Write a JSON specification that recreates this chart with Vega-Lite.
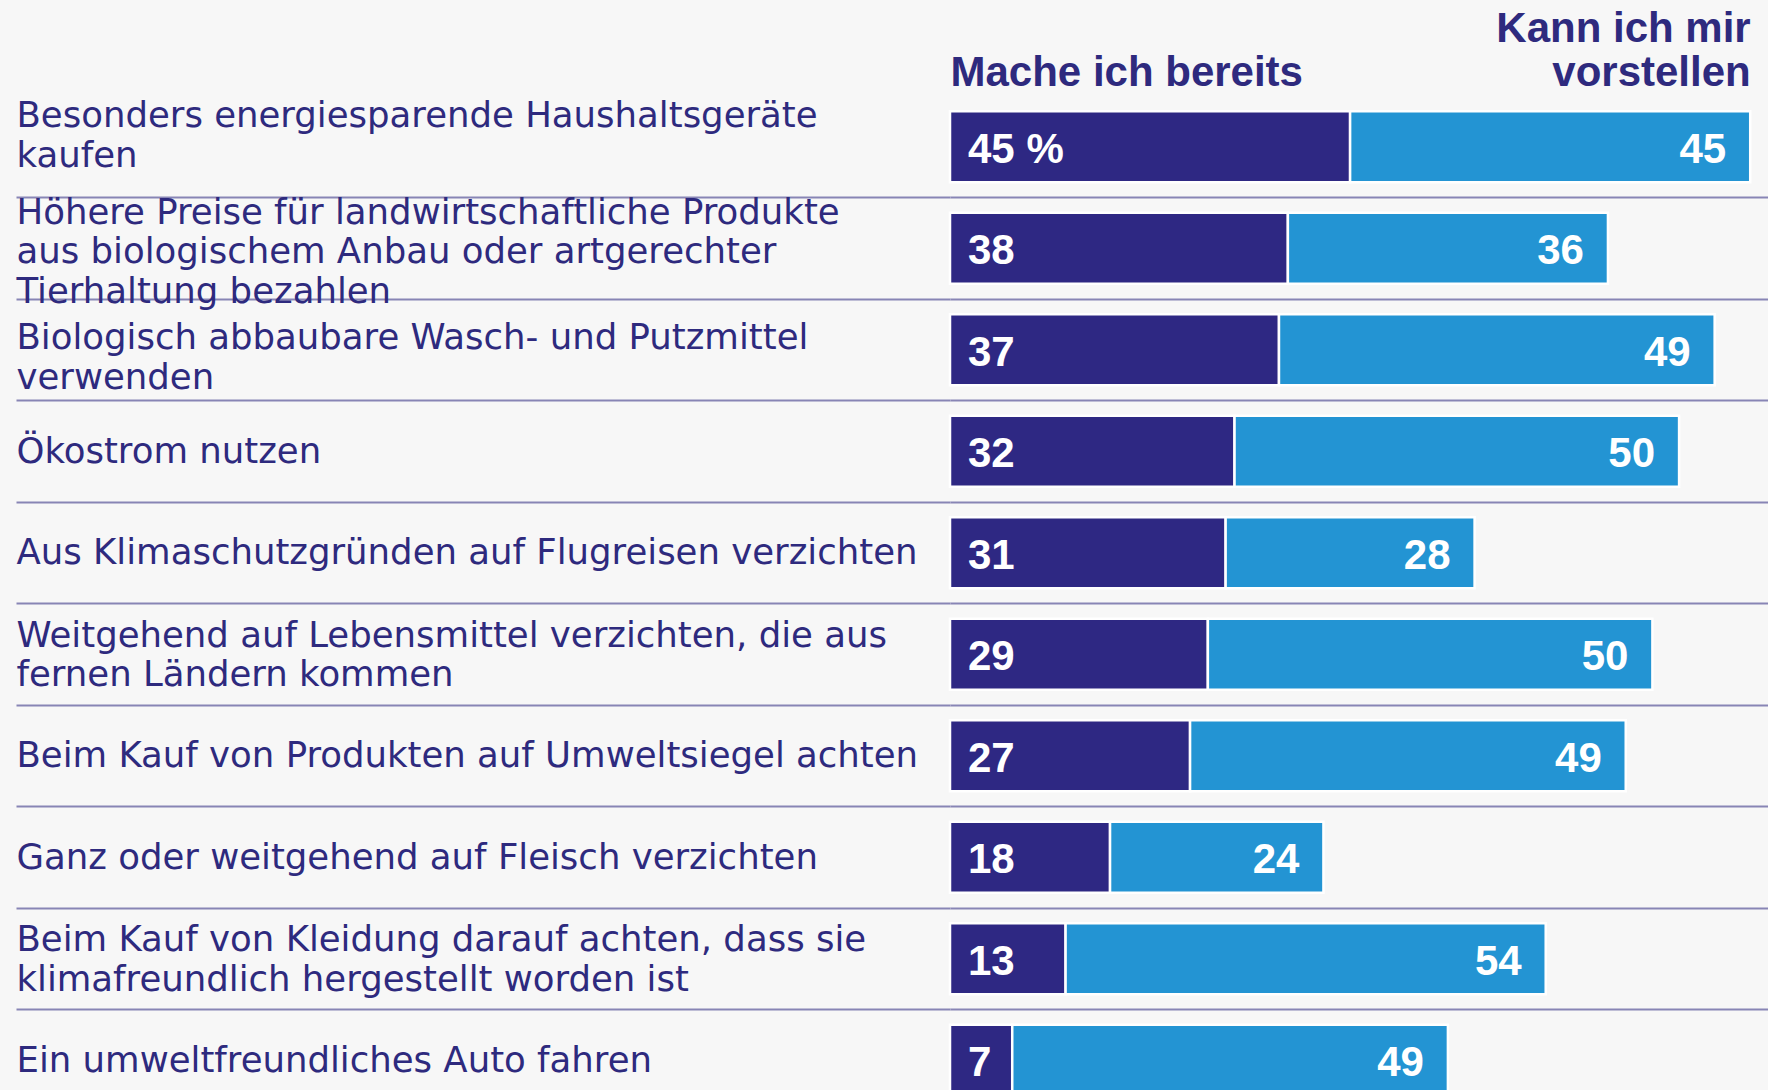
{
  "$schema": "https://vega.github.io/schema/vega-lite/v6.json",
  "width": 818,
  "height": 994,
  "autosize": {"type": "none"},
  "padding": {"left": 950, "top": 96, "right": 0, "bottom": 0},
  "background": "#f7f7f7",
  "config": {"view": {"stroke": null}},
  "data": {
    "values": [
      {"item": "Besonders energiesparende Haushaltsgeräte|kaufen", "cat": "Mache ich bereits", "o": 1, "value": 45, "lbl": "45 %"},
      {"item": "Besonders energiesparende Haushaltsgeräte|kaufen", "cat": "Kann ich mir vorstellen", "o": 2, "value": 45, "lbl": "45"},
      {"item": "Höhere Preise für landwirtschaftliche Produkte|aus biologischem Anbau oder artgerechter|Tierhaltung bezahlen", "cat": "Mache ich bereits", "o": 1, "value": 38, "lbl": "38"},
      {"item": "Höhere Preise für landwirtschaftliche Produkte|aus biologischem Anbau oder artgerechter|Tierhaltung bezahlen", "cat": "Kann ich mir vorstellen", "o": 2, "value": 36, "lbl": "36"},
      {"item": "Biologisch abbaubare Wasch- und Putzmittel|verwenden", "cat": "Mache ich bereits", "o": 1, "value": 37, "lbl": "37"},
      {"item": "Biologisch abbaubare Wasch- und Putzmittel|verwenden", "cat": "Kann ich mir vorstellen", "o": 2, "value": 49, "lbl": "49"},
      {"item": "Ökostrom nutzen", "cat": "Mache ich bereits", "o": 1, "value": 32, "lbl": "32"},
      {"item": "Ökostrom nutzen", "cat": "Kann ich mir vorstellen", "o": 2, "value": 50, "lbl": "50"},
      {"item": "Aus Klimaschutzgründen auf Flugreisen verzichten", "cat": "Mache ich bereits", "o": 1, "value": 31, "lbl": "31"},
      {"item": "Aus Klimaschutzgründen auf Flugreisen verzichten", "cat": "Kann ich mir vorstellen", "o": 2, "value": 28, "lbl": "28"},
      {"item": "Weitgehend auf Lebensmittel verzichten, die aus|fernen Ländern kommen", "cat": "Mache ich bereits", "o": 1, "value": 29, "lbl": "29"},
      {"item": "Weitgehend auf Lebensmittel verzichten, die aus|fernen Ländern kommen", "cat": "Kann ich mir vorstellen", "o": 2, "value": 50, "lbl": "50"},
      {"item": "Beim Kauf von Produkten auf Umweltsiegel achten", "cat": "Mache ich bereits", "o": 1, "value": 27, "lbl": "27"},
      {"item": "Beim Kauf von Produkten auf Umweltsiegel achten", "cat": "Kann ich mir vorstellen", "o": 2, "value": 49, "lbl": "49"},
      {"item": "Ganz oder weitgehend auf Fleisch verzichten", "cat": "Mache ich bereits", "o": 1, "value": 18, "lbl": "18"},
      {"item": "Ganz oder weitgehend auf Fleisch verzichten", "cat": "Kann ich mir vorstellen", "o": 2, "value": 24, "lbl": "24"},
      {"item": "Beim Kauf von Kleidung darauf achten, dass sie|klimafreundlich hergestellt worden ist", "cat": "Mache ich bereits", "o": 1, "value": 13, "lbl": "13"},
      {"item": "Beim Kauf von Kleidung darauf achten, dass sie|klimafreundlich hergestellt worden ist", "cat": "Kann ich mir vorstellen", "o": 2, "value": 54, "lbl": "54"},
      {"item": "Ein umweltfreundliches Auto fahren", "cat": "Mache ich bereits", "o": 1, "value": 7, "lbl": "7"},
      {"item": "Ein umweltfreundliches Auto fahren", "cat": "Kann ich mir vorstellen", "o": 2, "value": 49, "lbl": "49"}
    ]
  },
  "transform": [
    {"stack": "value", "groupby": ["item"], "sort": [{"field": "o", "order": "ascending"}], "as": ["v0", "v1"]}
  ],
  "encoding": {
    "y": {
      "field": "item",
      "type": "nominal",
      "sort": null,
      "title": null,
      "scale": {"range": [0, 1015], "paddingInner": 0.3, "paddingOuter": 0.15},
      "axis": {
        "orient": "left",
        "domain": false,
        "ticks": true,
        "bandPosition": 1,
        "tickExtra": false,
        "tickOffset": 15,
        "tickSize": 934,
        "tickColor": "#8885b5",
        "tickWidth": 2,
        "grid": true,
        "gridColor": "#8885b5",
        "gridWidth": 2,
        "labelOffset": {
          "condition": [
            {"test": "indexof(datum.value, 'Besonders') == 0", "value": -46},
            {"test": "indexof(datum.value, 'Höhere') == 0", "value": -51},
            {"test": "indexof(datum.value, 'Biologisch') == 0", "value": -27},
            {"test": "indexof(datum.value, '|') >= 0", "value": -34}
          ],
          "value": -15
        },
        "labelPadding": 0,
        "labelAlign": "left",
        "labelBaseline": "middle",
        "labelFont": "DejaVu Sans",
        "labelFontSize": 35.5,
        "labelColor": "#2e2a7e",
        "labelLimit": 940,
        "labelLineHeight": 39.5,
        "labelOverlap": false,
        "labelExpr": "split(datum.value, '|')",
        "title": null
      }
    }
  },
  "layer": [
    {
      "mark": {"type": "bar", "stroke": "#ffffff", "strokeWidth": 2.5},
      "encoding": {
        "x": {
          "field": "v0",
          "type": "quantitative",
          "title": null,
          "scale": {"domain": [0, 92], "nice": false, "zero": true},
          "axis": {
            "orient": "top",
            "values": [0, 90],
            "domain": false,
            "ticks": false,
            "tickSize": 0,
            "grid": false,
            "labelExpr": "datum.value == 0 ? 'Mache ich bereits' : ['Kann ich mir', 'vorstellen']",
            "labelAlign": {"condition": {"test": "datum.value == 0", "value": "left"}, "value": "right"},
            "labelPadding": {"condition": {"test": "datum.value == 0", "value": 2}, "value": 46},
            "labelBaseline": "bottom",
            "labelFont": "Liberation Sans",
            "labelFontWeight": "bold",
            "labelFontSize": 42,
            "labelLineHeight": 44,
            "labelColor": "#2e2a7e",
            "labelLimit": 600,
            "labelFlush": false,
            "labelOverlap": false,
            "title": null
          }
        },
        "x2": {"field": "v1"},
        "color": {
          "field": "cat",
          "type": "nominal",
          "scale": {"domain": ["Mache ich bereits", "Kann ich mir vorstellen"], "range": ["#2e2883", "#2394d3"]},
          "legend": null
        }
      }
    },
    {
      "transform": [{"filter": "datum.o == 1"}],
      "mark": {"type": "text", "align": "left", "baseline": "alphabetic", "dx": 18, "dy": 16, "font": "Liberation Sans", "fontWeight": "bold", "fontSize": 42, "color": "#ffffff"},
      "encoding": {
        "x": {"field": "v0", "type": "quantitative", "title": null, "scale": {"domain": [0, 92], "nice": false, "zero": true}},
        "text": {"field": "lbl"}
      }
    },
    {
      "transform": [{"filter": "datum.o == 2"}],
      "mark": {"type": "text", "align": "right", "baseline": "alphabetic", "dx": -24, "dy": 16, "font": "Liberation Sans", "fontWeight": "bold", "fontSize": 42, "color": "#ffffff"},
      "encoding": {
        "x": {"field": "v1", "type": "quantitative", "title": null, "scale": {"domain": [0, 92], "nice": false, "zero": true}},
        "text": {"field": "lbl"}
      }
    }
  ]
}
